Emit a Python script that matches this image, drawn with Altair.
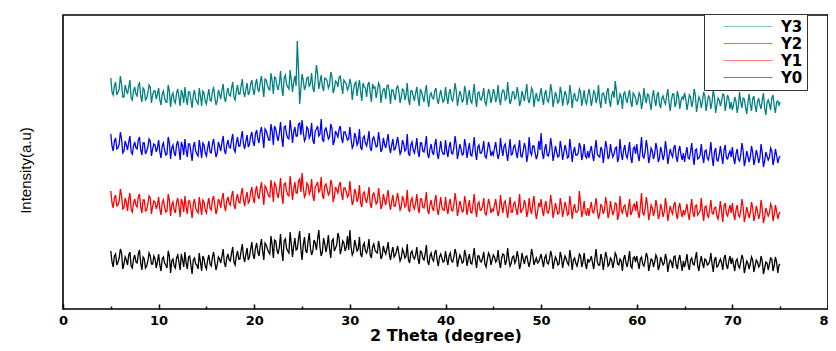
import altair as alt
import pandas as pd

# 2-theta sampling grid (degrees), step 0.125
theta = [5 + 0.125 * i for i in range(561)]

# Intensity (a.u., arbitrary offset units).
# *_a: samples at 5.00, 5.25, ... 75.00 ; *_b: samples at 5.125, 5.375, ... 74.875
y0_a = [
    58,42,55,47,60,40,52,44,57,41,54,46,59,39,50,43,56,45,53,41,
    55,38,52,44,58,36,50,41,54,39,49,57,40,53,35,51,44,56,38,50,
    40,54,43,57,39,52,46,60,42,55,48,62,44,58,50,65,47,61,52,67,
    50,66,53,70,49,64,57,73,51,68,55,75,48,70,58,77,52,71,60,78,
    49,72,56,76,54,69,59,79,53,71,57,74,51,70,61,76,55,68,58,73,
    79,54,69,58,72,52,66,56,70,51,65,57,68,50,63,55,67,49,62,54,
    63,48,60,51,65,46,58,50,62,45,57,49,64,44,56,48,59,43,55,47,
    58,44,56,47,60,42,54,46,59,43,55,45,61,41,53,47,57,42,56,44,
    54,47,59,41,55,44,61,43,52,46,58,40,56,45,53,42,60,44,51,47,
    55,42,54,45,58,40,52,44,57,41,53,46,59,39,51,43,55,42,56,40,
    47,53,40,60,44,55,39,57,43,51,41,56,45,50,38,54,42,58,41,52,
    53,40,52,43,56,38,50,42,54,39,52,44,55,37,49,41,53,40,54,38,
    42,55,39,51,44,57,38,53,41,49,45,56,37,52,43,50,39,54,40,53,
    51,38,50,41,54,36,48,40,52,37,49,42,53,35,47,39,51,38,52,36,
    45,
]
y0_b = [
    47,53,44,51,56,45,49,54,43,50,47,55,46,52,41,48,53,45,50,47,
    44,50,46,41,53,48,43,51,47,55,42,46,52,44,49,45,40,47,53,43,
    49,45,52,47,44,50,53,46,51,49,56,47,53,50,58,52,55,49,60,54,
    61,57,63,58,66,60,55,64,69,59,62,57,68,61,56,65,63,59,70,60,
    64,59,67,61,58,66,70,62,57,65,63,60,68,58,64,71,60,66,62,59,
    62,57,64,60,55,63,58,61,54,62,59,56,61,53,58,60,55,57,52,58,
    55,51,57,53,49,56,52,54,50,58,51,55,48,53,50,56,49,52,51,48,
    50,53,48,52,55,49,51,47,54,50,46,52,49,53,48,51,45,50,53,49,
    52,49,47,51,54,48,50,46,53,49,51,45,50,52,47,49,54,48,46,51,
    48,51,46,50,53,47,49,45,52,48,50,44,51,49,46,48,53,47,45,50,
    49,46,51,47,44,50,48,52,45,49,47,53,44,48,50,46,49,43,51,47,
    46,50,45,48,52,44,49,47,51,43,48,46,50,45,47,52,44,49,46,48,
    47,44,49,45,51,43,47,46,50,44,48,45,49,42,47,46,51,44,48,45,
    44,48,43,47,50,42,46,45,49,43,47,44,48,41,46,45,50,43,47,44,
]
y1_a = [
    118,101,114,104,120,100,111,98,116,97,110,102,115,96,109,99,113,95,108,100,
    112,94,109,97,115,93,107,96,111,92,106,113,95,108,91,110,98,112,94,107,
    96,111,99,113,95,110,101,116,98,112,104,118,100,115,106,121,103,117,108,122,
    106,123,110,127,104,121,113,129,107,124,111,131,105,126,114,133,109,127,116,130,
    136,112,126,115,130,108,124,117,132,110,125,114,129,107,122,116,127,109,121,112,
    128,104,120,107,124,102,117,106,122,101,116,105,121,100,115,104,119,99,114,103,
    116,99,113,102,119,97,111,100,115,96,110,101,117,95,109,98,114,94,112,99,
    112,95,110,98,116,93,108,97,113,94,109,96,115,92,107,99,111,94,110,96,
    98,110,93,114,96,108,91,112,97,107,94,115,99,109,92,111,95,113,90,106,
    110,93,108,96,114,91,106,95,111,92,107,94,113,90,105,97,118,92,108,94,
    93,107,96,111,90,105,95,112,91,108,94,106,89,113,96,104,92,110,97,105,
    108,91,116,94,112,89,104,93,109,90,105,92,111,88,103,95,107,90,106,92,
    94,105,89,110,92,104,96,111,88,103,91,109,95,102,90,108,87,106,93,104,
    106,89,104,92,110,87,102,91,107,88,103,90,109,86,101,93,105,88,104,90,
    97,
]
y1_b = [
    106,111,103,108,113,101,107,110,100,106,104,112,102,109,98,105,111,103,107,104,
    100,106,102,98,109,104,99,107,103,110,97,102,108,100,105,101,96,104,109,99,
    105,101,109,104,100,107,111,103,108,106,113,104,110,107,115,109,112,106,117,111,
    118,113,120,115,123,117,112,121,126,116,119,114,125,118,113,122,120,116,128,117,
    121,115,124,118,113,122,127,119,114,123,120,116,125,112,119,124,115,121,117,114,
    114,108,116,111,106,115,110,113,105,114,111,107,112,104,109,112,106,108,103,110,
    107,102,109,104,100,108,103,106,101,110,102,107,99,104,101,108,100,103,102,99,
    101,105,99,104,107,100,103,98,106,102,97,104,100,105,99,103,96,101,105,100,
    104,100,98,103,106,99,102,97,105,100,103,96,101,104,98,100,106,99,97,102,
    99,103,97,101,105,98,100,96,104,99,102,95,103,100,97,99,105,98,96,101,
    101,97,103,98,95,102,99,104,96,100,98,105,95,99,102,97,101,94,103,98,
    97,102,96,100,104,95,101,98,103,94,100,97,102,96,98,104,95,101,97,99,
    99,95,101,96,103,94,98,97,102,95,100,96,101,93,98,97,103,95,99,96,
    95,99,94,98,102,93,97,96,101,94,98,95,100,92,97,96,102,94,98,95,
]
y2_a = [
    175,158,171,161,177,156,168,159,173,155,167,160,172,154,166,158,170,153,165,157,
    169,151,166,154,172,150,164,153,168,149,163,170,152,165,148,167,155,169,151,164,
    153,168,156,170,152,167,158,173,155,169,161,175,157,172,163,178,160,174,165,177,
    163,179,166,182,161,178,169,185,164,180,168,187,162,183,171,189,166,182,173,186,
    189,168,182,171,186,165,180,173,190,167,181,170,185,164,178,172,183,166,177,169,
    182,161,176,164,180,159,173,163,178,158,172,162,177,157,171,161,175,156,170,160,
    172,155,169,158,175,153,167,156,171,152,166,157,173,151,165,154,170,150,168,155,
    169,152,167,155,173,150,165,154,170,151,166,153,172,149,164,156,168,151,167,153,
    154,167,150,171,153,165,148,170,155,164,151,169,152,166,147,172,154,163,150,168,
    176,150,165,153,171,148,163,152,168,149,164,151,170,147,162,154,166,149,165,151,
    151,163,148,169,153,162,146,168,150,165,152,161,147,170,149,164,151,167,146,162,
    165,148,172,151,169,146,161,150,166,147,162,149,168,145,160,152,164,147,163,149,
    147,162,150,166,144,160,151,165,146,159,149,167,143,161,148,163,145,164,150,158,
    162,145,160,148,166,143,158,147,163,144,159,146,165,142,157,149,161,144,160,146,
    153,
]
y2_b = [
    163,168,160,165,170,158,164,167,157,163,161,169,159,166,155,162,168,160,164,161,
    157,163,159,155,166,161,156,164,160,167,154,159,165,157,162,158,153,161,166,156,
    161,157,165,160,156,163,167,159,164,162,169,160,166,163,171,165,168,162,173,167,
    175,170,177,172,180,174,169,178,183,173,176,171,182,175,170,179,177,173,185,174,
    177,171,180,174,169,178,183,175,170,179,176,172,181,168,175,180,171,177,173,170,
    170,164,172,167,162,171,166,169,161,170,167,163,168,160,165,168,162,164,159,166,
    163,158,165,160,156,164,159,162,157,166,158,163,155,160,157,164,156,159,158,155,
    158,162,156,161,164,157,160,155,163,159,154,161,157,162,156,160,153,158,162,157,
    161,157,155,160,163,156,159,154,162,157,160,153,158,161,155,157,163,156,154,159,
    156,160,154,158,162,155,157,153,161,156,159,152,160,157,154,156,162,155,153,158,
    158,154,160,155,152,159,156,161,153,157,155,162,152,156,159,154,158,151,160,155,
    154,159,153,157,161,152,158,155,160,151,157,154,159,153,155,161,152,158,154,156,
    155,151,157,152,159,150,154,153,158,151,156,152,157,149,154,153,159,151,155,152,
    151,155,150,154,158,149,153,152,157,150,154,151,156,148,153,152,158,150,154,151,
]
y3_a = [
    231,214,227,217,233,212,224,215,229,209,222,213,226,207,219,211,224,206,218,210,
    221,204,218,207,224,202,216,206,220,203,215,222,204,217,201,219,207,221,203,216,
    205,220,208,222,204,219,210,225,207,221,213,227,209,224,215,230,212,226,217,229,
    214,230,217,233,212,229,220,236,215,231,219,238,213,234,222,239,217,233,268,205,
    235,219,231,222,236,217,244,220,234,218,230,221,237,216,228,222,233,215,227,219,
    230,209,225,213,229,208,222,212,227,207,221,211,226,206,220,210,224,205,219,209,
    223,206,220,209,226,204,218,208,222,203,217,207,224,202,216,210,221,205,219,207,
    222,205,220,208,226,203,218,207,223,204,219,206,225,202,217,209,221,204,220,206,
    220,207,224,204,219,209,227,205,217,210,222,203,218,208,225,206,221,202,216,208,
    221,204,219,207,225,202,217,206,222,203,218,205,224,201,216,208,220,203,219,205,
    220,203,218,206,224,201,216,205,221,202,218,228,204,215,200,217,206,219,202,214,
    204,216,200,221,206,214,199,219,203,217,201,213,205,220,198,215,202,218,200,212,
    216,199,214,202,220,197,212,201,217,198,213,200,219,196,211,203,215,198,214,200,
    199,212,196,217,201,210,195,215,198,213,197,211,200,216,194,209,199,214,196,208,
    207,
]
y3_b = [
    217,223,214,220,225,212,219,222,211,218,215,224,213,221,209,216,222,214,218,215,
    209,215,211,207,218,213,208,216,212,219,206,211,217,209,214,210,205,213,218,208,
    213,209,217,212,208,215,219,211,216,214,221,212,218,215,223,217,220,214,225,219,
    225,220,227,222,230,224,219,228,232,223,226,221,231,225,220,229,227,223,240,220,
    229,223,232,226,221,230,235,227,222,231,228,224,233,220,227,232,223,229,225,222,
    225,219,227,222,217,226,221,224,216,225,222,218,223,215,220,223,217,219,214,221,
    217,212,219,214,210,218,213,216,211,220,212,217,209,214,211,218,210,213,212,209,
    212,216,210,215,218,211,214,209,217,213,208,215,211,216,210,214,207,212,216,211,
    216,212,210,215,218,211,214,209,217,212,215,208,213,216,210,212,218,211,209,214,
    211,215,209,213,217,210,212,208,216,211,214,207,215,212,209,211,217,210,208,213,
    214,210,216,211,208,215,212,217,209,213,211,218,208,212,215,210,214,207,216,211,
    208,213,207,211,215,206,212,209,214,205,211,208,213,207,209,215,206,212,208,210,
    210,206,212,207,214,205,209,208,213,206,211,207,212,204,209,208,214,206,210,207,
    204,208,203,207,211,202,206,205,210,203,207,204,209,201,206,205,211,203,207,204,
]

series_names = ["Y3", "Y2", "Y1", "Y0"]
series_colors = ["#008080", "#0000ff", "#ff0000", "#000000"]
series_parts = {
    "Y3": (y3_a, y3_b),
    "Y2": (y2_a, y2_b),
    "Y1": (y1_a, y1_b),
    "Y0": (y0_a, y0_b),
}
x_ticks = [0, 5, 10, 15, 20, 25, 30, 35, 40, 45, 50, 55, 60, 65, 70, 75, 80]


def interleave(a, b):
    out = []
    for i in range(len(b)):
        out.append(a[i])
        out.append(b[i])
    out.append(a[-1])
    return out


rows = []
for name in series_names:
    vals = interleave(*series_parts[name])
    for t, v in zip(theta, vals):
        rows.append({"theta": t, "intensity": v, "series": name})
df = pd.DataFrame(rows)

chart = (
    alt.Chart(df)
    .mark_line(strokeWidth=1.3, clip=True)
    .encode(
        x=alt.X(
            "theta:Q",
            scale=alt.Scale(domain=[0, 80], nice=False, zero=False),
            axis=alt.Axis(
                title="2 Theta (degree)",
                values=x_ticks,
                labelExpr="datum.value % 10 === 0 ? datum.label : ''",
                labelFlush=False,
                labelOverlap=False,
                grid=False,
                domain=False,
                tickColor="black",
                tickWidth=1.5,
                tickSize={"expr": "datum.value % 10 === 0 ? -5 : -3"},
                labelPadding=10,
                labelFont="DejaVu Sans",
                labelFontWeight="bold",
                labelFontSize=13,
                labelColor="black",
                titleFont="DejaVu Sans",
                titleFontWeight="bold",
                titleFontSize=16,
                titleColor="black",
                titleBaseline="alphabetic",
                titleY=31,
            ),
        ),
        y=alt.Y(
            "intensity:Q",
            scale=alt.Scale(domain=[0, 294], nice=False, zero=False),
            axis=alt.Axis(
                title="Intensity(a.u)",
                labels=False,
                ticks=False,
                grid=False,
                domain=False,
                titleFont="Liberation Sans",
                titleFontWeight="normal",
                titleFontSize=15,
                titleColor="black",
                titlePadding=30,
                titleY=155,
            ),
        ),
        color=alt.Color(
            "series:N",
            sort=series_names,
            scale=alt.Scale(domain=series_names, range=series_colors),
            legend=alt.Legend(
                title=None,
                orient="none",
                legendX=641,
                legendY=-1,
                symbolType="stroke",
                symbolSize=2401,
                symbolStrokeWidth=1,
                symbolOpacity=0.5,
                symbolOffset=15,
                labelOffset=8,
                labelFont="DejaVu Sans",
                labelFontWeight="bold",
                labelFontSize=15,
                labelColor="black",
                clipHeight=17,
                rowPadding=0,
                padding=4,
                strokeColor="#333333",
                fillColor="white",
            ),
        ),
    )
    .properties(
        width=765,
        height=294,
        autosize=alt.AutoSizeParams(type="none"),
        padding={"left": 55, "top": 7, "right": 0, "bottom": 34},
    )
    .configure_view(stroke="black", strokeWidth=1.6)
)

chart.save("out.html", embed_options={"renderer": "svg", "actions": False})
